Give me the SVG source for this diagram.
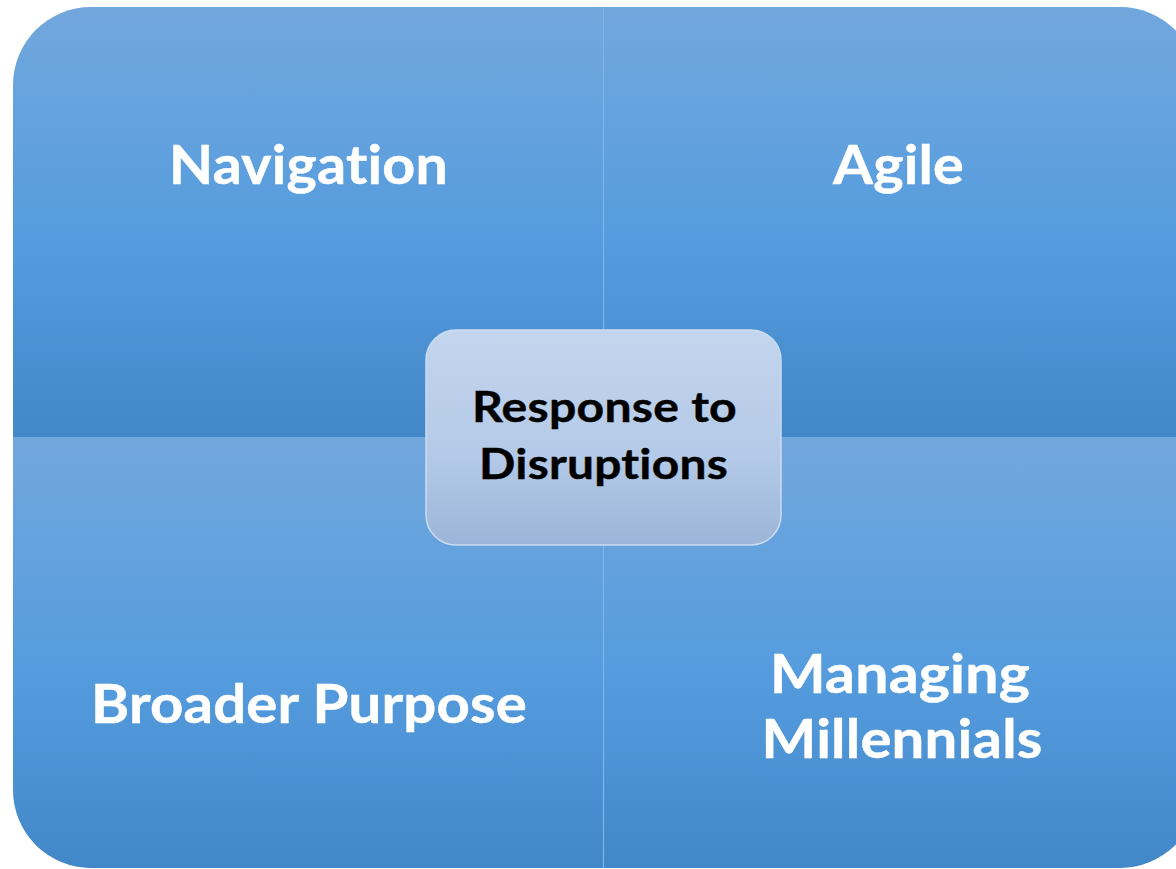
<svg xmlns="http://www.w3.org/2000/svg" width="1176" height="869" viewBox="0 0 1176 869">
<defs>
<linearGradient id="gTop" x1="0" y1="0" x2="0" y2="1">
<stop offset="0" stop-color="#72A7DD"/>
<stop offset="0.55" stop-color="#559CDE"/>
<stop offset="1" stop-color="#4287C8"/>
</linearGradient>
<linearGradient id="gCenter" x1="0" y1="0" x2="0" y2="1">
<stop offset="0" stop-color="#C4D6EE"/>
<stop offset="0.6" stop-color="#B3C9E7"/>
<stop offset="1" stop-color="#9CB5D8"/>
</linearGradient>
<style>
.q{fill:url(#gTop);}
.lbl{font-family:Lato,"Open Sans","Liberation Sans",sans-serif;font-weight:bold;fill:#FFFFFF;font-size:54px;text-anchor:middle;letter-spacing:0.2px;font-variant-ligatures:none;font-feature-settings:"liga" 0,"clig" 0,"dlig" 0,"calt" 0;stroke:#FFFFFF;stroke-width:0.5px;}
.ctr{font-family:Lato,"Open Sans","Liberation Sans",sans-serif;font-weight:bold;fill:#000000;font-size:42px;text-anchor:middle;letter-spacing:0.2px;font-variant-ligatures:none;font-feature-settings:"liga" 0,"clig" 0,"dlig" 0,"calt" 0;stroke:#000000;stroke-width:0.4px;}
</style>
</defs>
<rect width="1176" height="869" fill="#FFFFFF"/>
<g id="navigation">
<path class="q" d="M13,437 L13,85 A78,78 0 0 1 91,7 L603,7 L603,437 Z"/>
<text class="lbl" x="308.5" y="184" textLength="279" lengthAdjust="spacingAndGlyphs">Navigation</text>
</g>
<g id="agile">
<path class="q" d="M604,7 L1120,7 A78,78 0 0 1 1198,85 L1198,437 L604,437 Z"/>
<text class="lbl" x="898.5" y="184" textLength="131" lengthAdjust="spacingAndGlyphs">Agile</text>
</g>
<g id="broader-purpose">
<path class="q" d="M13,437 L603,437 L603,868 L91,868 A78,78 0 0 1 13,790 Z"/>
<text class="lbl" x="309" y="723" textLength="436" lengthAdjust="spacingAndGlyphs">Broader Purpose</text>
</g>
<g id="managing-millennials">
<path class="q" d="M604,437 L1198,437 L1198,790 A78,78 0 0 1 1120,868 L604,868 Z"/>
<text class="lbl" x="900" y="693" textLength="260" lengthAdjust="spacingAndGlyphs">Managing</text>
<text class="lbl" x="902" y="758" textLength="281" lengthAdjust="spacingAndGlyphs">Millennials</text>
</g>
<g id="connectors">
<line x1="603.5" y1="7" x2="603.5" y2="868" stroke="#7FB4E6" stroke-width="1.2"/>
</g>
<g id="response-to-disruptions">
<rect x="426" y="330" width="355" height="215" rx="30" ry="30" fill="url(#gCenter)" stroke="#CCDCF0" stroke-width="1.5"/>
<text class="ctr" x="604.5" y="422" textLength="265" lengthAdjust="spacingAndGlyphs">Response to</text>
<text class="ctr" x="603.5" y="479" textLength="249" lengthAdjust="spacingAndGlyphs">Disruptions</text>
</g>
</svg>
